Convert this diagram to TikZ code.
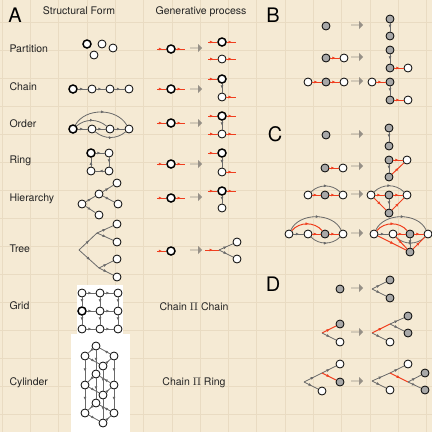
\documentclass[tikz,border=0pt]{standalone}
\usepackage{fontspec}
\setmainfont{TeX Gyre Heros}
\usetikzlibrary{arrows.meta, shapes.arrows, decorations.markings}
\definecolor{paper}{RGB}{245, 234, 212}
\definecolor{papergrid}{RGB}{233, 219, 194}
\definecolor{edgegray}{RGB}{105, 105, 105}
\definecolor{nodegray}{RGB}{168, 168, 168}
\definecolor{growred}{RGB}{240, 62, 30}
\definecolor{stepgray}{RGB}{150, 144, 135}
\definecolor{inkgray}{RGB}{35, 35, 35}
\newcommand{\redin}[1]{\draw[redge] ([xshift=-14pt]#1.center) -- (#1);}
\newcommand{\redout}[1]{\draw[redge] (#1) -- ([xshift=14pt]#1.center);}

\begin{document}
\begin{tikzpicture}[
  x=1pt, y=-1pt,
  fnode/.style={circle, draw=black, line width=0.8pt, fill=white, minimum size=8pt, inner sep=0pt},
  snode/.style={fnode, line width=1.5pt},
  gnode/.style={fnode, fill=nodegray},
  gedge/.style={color=edgegray, line width=0.8pt, postaction={decorate},
    decoration={markings, mark=at position 0.55 with {\arrow{Latex[length=3.2pt,width=3pt]}}}},
  redge/.style={gedge, color=growred, line width=1pt},
  stepar/.style={single arrow, fill=stepgray, draw=none, minimum height=12pt, minimum width=8pt,
    single arrow head extend=1.5pt, inner sep=0pt},
  lab/.style={anchor=west, text=inkgray, font=\fontsize{10.5}{12}\selectfont},
  head/.style={text=inkgray, font=\fontsize{10.5}{12}\selectfont},
  panel/.style={text=black, font=\fontsize{20}{24}\selectfont},
  whitebox/.style={fill=white, draw=none}
]
  % paper and its grid
  \useasboundingbox (0,0) rectangle (432,432);
  \fill[paper] (0,0) rectangle (432,432);
  \foreach \k in {0,...,15} {
    \draw[papergrid, line width=0.5pt] (2+28.3*\k,0) -- (2+28.3*\k,432);
    \draw[papergrid, line width=0.5pt] (0,22+28*\k) -- (432,22+28*\k);
  }

  % headings
  \node[panel] (pa) at (15,15) {A};
  \node[panel] (pb) at (273,15) {B};
  \node[panel] (pc) at (275,134) {C};
  \node[panel] (pd) at (273,284) {D};
  \node[head] (hsf) at (79,11) {Structural Form};
  \node[head] (hgp) at (201,12) {Generative process};

  % row labels
  \node[lab] (lpart) at (6,49) {Partition};
  \node[lab] (lchain) at (6,87) {Chain};
  \node[lab] (lorder) at (6,124) {Order};
  \node[lab] (lring) at (6,161) {Ring};
  \node[lab] (lhier) at (6,199) {Hierarchy};
  \node[lab] (ltree) at (6,249) {Tree};
  \node[lab] (lgrid) at (6,306) {Grid};
  \node[lab] (lcyl) at (6,383) {Cylinder};
  \node[head] (pcc) at (194,307) {Chain $\Pi$ Chain};
  \node[head] (pcr) at (194,383) {Chain $\Pi$ Ring};

  % structural forms
  \node[snode] (p1) at (87,44) {};
  \node[fnode] (p2) at (102,44) {};
  \node[fnode] (p3) at (113,48) {};
  \node[fnode] (p4) at (94,55) {};

  \node[snode] (c1) at (73,89) {};
  \node[fnode] (c2) at (92,89) {};
  \node[fnode] (c3) at (110,89) {};
  \node[fnode] (c4) at (129,89) {};
  \draw[gedge] (c1) -- (c2);
  \draw[gedge] (c2) -- (c3);
  \draw[gedge] (c3) -- (c4);

  \node[snode] (o1) at (73,129) {};
  \node[fnode] (o2) at (92,129) {};
  \node[fnode] (o3) at (110,129) {};
  \node[fnode] (o4) at (129,129) {};
  \draw[gedge] (o1) -- (o2);
  \draw[gedge] (o2) -- (o3);
  \draw[gedge] (o3) -- (o4);
  \draw[gedge] (o1) to[out=60, in=120] (o4);
  \draw[gedge] (o1) to[out=40, in=140] (o3);
  \draw[gedge] (o2) to[out=-40, in=-140] (o4);

  \node[snode] (r1) at (91,153) {};
  \node[fnode] (r2) at (109,153) {};
  \node[fnode] (r3) at (109,171) {};
  \node[fnode] (r4) at (91,171) {};
  \draw[gedge] (r1) -- (r2);
  \draw[gedge] (r2) -- (r3);
  \draw[gedge] (r3) -- (r4);
  \draw[gedge] (r4) -- (r1);

  \node[fnode] (h1) at (82,204) {};
  \node[fnode] (h2) at (99,194) {};
  \node[fnode] (h3) at (117,183) {};
  \node[fnode] (h4) at (118,204) {};
  \node[fnode] (h5) at (99,215) {};
  \draw[gedge] (h1) -- (h2);
  \draw[gedge] (h1) -- (h5);
  \draw[gedge] (h2) -- (h3);
  \draw[gedge] (h2) -- (h4);

  \coordinate (t0) at (79,250);
  \coordinate (t1) at (97,233);
  \coordinate (t2) at (99,268);
  \node[fnode] (t3) at (117,224) {};
  \node[fnode] (t4) at (117,242) {};
  \node[fnode] (t5) at (117,259) {};
  \node[fnode] (t6) at (117,277) {};
  \draw[gedge] (t0) -- (t1);
  \draw[gedge] (t0) -- (t2);
  \draw[gedge] (t1) -- (t3);
  \draw[gedge] (t1) -- (t4);
  \draw[gedge] (t2) -- (t5);
  \draw[gedge] (t2) -- (t6);

  % grid
  \fill[whitebox] (77,285) rectangle (123,334);
  \node[fnode] (g11) at (82,293) {};
  \node[fnode] (g12) at (100,293) {};
  \node[fnode] (g13) at (118,293) {};
  \node[snode] (g21) at (82,311) {};
  \node[fnode] (g22) at (100,311) {};
  \node[fnode] (g23) at (118,311) {};
  \node[fnode] (g31) at (82,329) {};
  \node[fnode] (g32) at (100,329) {};
  \node[fnode] (g33) at (118,329) {};
  \draw[gedge] (g11) -- (g12);
  \draw[gedge] (g12) -- (g13);
  \draw[gedge] (g21) -- (g22);
  \draw[gedge] (g22) -- (g23);
  \draw[gedge] (g31) -- (g32);
  \draw[gedge] (g32) -- (g33);
  \draw[gedge] (g11) -- (g21);
  \draw[gedge] (g21) -- (g31);
  \draw[gedge] (g12) -- (g22);
  \draw[gedge] (g22) -- (g32);
  \draw[gedge] (g13) -- (g23);
  \draw[gedge] (g23) -- (g33);

  % cylinder
  \fill[whitebox] (71,334) rectangle (130,432);
  \node[fnode] (y1b) at (96,346) {};
  \node[fnode] (y1l) at (85,356) {};
  \node[fnode] (y1r) at (114,356) {};
  \node[fnode] (y1f) at (103,366) {};
  \node[fnode] (y2b) at (96,374) {};
  \node[fnode] (y2l) at (85,385) {};
  \node[fnode] (y2r) at (114,385) {};
  \node[fnode] (y2f) at (103,395) {};
  \node[fnode] (y3b) at (96,403) {};
  \node[fnode] (y3l) at (85,413) {};
  \node[fnode] (y3r) at (114,413) {};
  \node[fnode] (y3f) at (103,423) {};
  \draw[gedge] (y1b) -- (y1l);
  \draw[gedge] (y1l) -- (y1f);
  \draw[gedge] (y1f) -- (y1r);
  \draw[gedge] (y1r) -- (y1b);
  \draw[gedge] (y2b) -- (y2l);
  \draw[gedge] (y2l) -- (y2f);
  \draw[gedge] (y2f) -- (y2r);
  \draw[gedge] (y2r) -- (y2b);
  \draw[gedge] (y3b) -- (y3l);
  \draw[gedge] (y3l) -- (y3f);
  \draw[gedge] (y3f) -- (y3r);
  \draw[gedge] (y3r) -- (y3b);
  \draw[gedge] (y1b) -- (y2b);
  \draw[gedge] (y1l) -- (y2l);
  \draw[gedge] (y1r) -- (y2r);
  \draw[gedge] (y1f) -- (y2f);
  \draw[gedge] (y2b) -- (y3b);
  \draw[gedge] (y2l) -- (y3l);
  \draw[gedge] (y2r) -- (y3r);
  \draw[gedge] (y2f) -- (y3f);

  % generative processes
  \node[snode] (ga1) at (171,49) {};
  \redin{ga1} \redout{ga1}
  \node[stepar] (sa) at (196,48) {};
  \node[snode] (ga2) at (222,42) {};
  \node[fnode] (ga3) at (222,59) {};
  \redin{ga2} \redout{ga2}
  \redin{ga3} \redout{ga3}

  \node[snode] (gb1) at (171,89) {};
  \redin{gb1} \redout{gb1}
  \node[stepar] (sb) at (196,89) {};
  \node[snode] (gb2) at (222,79) {};
  \node[fnode] (gb3) at (222,97) {};
  \draw[gedge] (gb2) -- (gb3);
  \redin{gb2} \redout{gb3}

  \node[snode] (gc1) at (171,123) {};
  \redin{gc1} \redout{gc1}
  \node[stepar] (sc) at (196,123) {};
  \node[snode] (gc2) at (222,116) {};
  \node[fnode] (gc3) at (222,134) {};
  \draw[gedge] (gc2) -- (gc3);
  \redin{gc2} \redout{gc2}
  \redin{gc3} \redout{gc3}

  \node[snode] (gd1) at (171,164) {};
  \redin{gd1} \redout{gd1}
  \node[stepar] (sd) at (196,164) {};
  \node[snode] (gd2) at (222,153) {};
  \node[fnode] (gd3) at (222,172) {};
  \draw[gedge] (gd2) -- (gd3);
  \redin{gd2} \redout{gd3}

  \node[snode] (ge1) at (171,198) {};
  \redin{ge1} \redout{ge1}
  \node[stepar] (se) at (196,197) {};
  \node[snode] (ge2) at (222,191) {};
  \node[fnode] (ge3) at (222,208) {};
  \draw[gedge] (ge2) -- (ge3);
  \redin{ge2} \redout{ge2}

  \node[snode] (gf1) at (171,251) {};
  \redin{gf1}
  \node[stepar] (sf) at (196,250) {};
  \coordinate (gf2) at (219,250);
  \node[fnode] (gf3) at (237,242) {};
  \node[fnode] (gf4) at (237,259) {};
  \redin{gf2}
  \draw[gedge] (gf2) -- (gf3);
  \draw[gedge] (gf2) -- (gf4);

  % B
  \node[gnode] (ba1) at (326,26) {};
  \node[stepar] (sba) at (357,25) {};
  \node[gnode] (ba2) at (390,19) {};
  \node[gnode] (ba3) at (390,36) {};
  \draw[gedge] (ba2) -- (ba3);

  \node[gnode] (bb1) at (326,58) {};
  \node[fnode] (bb2) at (344,58) {};
  \draw[redge] (bb1) -- (bb2);
  \node[stepar] (sbb) at (357,57) {};
  \node[gnode] (bb3) at (390,50) {};
  \node[gnode] (bb4) at (390,68) {};
  \node[fnode] (bb5) at (408,68) {};
  \draw[gedge] (bb3) -- (bb4);
  \draw[redge] (bb4) -- (bb5);

  \node[fnode] (bc1) at (308,82) {};
  \node[gnode] (bc2) at (326,82) {};
  \node[fnode] (bc3) at (344,82) {};
  \draw[redge] (bc1) -- (bc2);
  \draw[redge] (bc2) -- (bc3);
  \node[stepar] (sbc) at (357,81) {};
  \node[fnode] (bc4) at (372,82) {};
  \node[gnode] (bc5) at (390,82) {};
  \node[gnode] (bc6) at (390,100) {};
  \node[fnode] (bc7) at (408,100) {};
  \draw[redge] (bc4) -- (bc5);
  \draw[gedge] (bc5) -- (bc6);
  \draw[redge] (bc6) -- (bc7);

  % C
  \node[gnode] (ca1) at (326,135) {};
  \node[stepar] (sca) at (357,134) {};
  \node[gnode] (ca2) at (389,128) {};
  \node[gnode] (ca3) at (389,146) {};
  \draw[gedge] (ca2) -- (ca3);

  \node[gnode] (cb1) at (325,168) {};
  \node[fnode] (cb2) at (343,168) {};
  \draw[redge] (cb1) -- (cb2);
  \node[stepar] (scb) at (357,166) {};
  \node[gnode] (cb3) at (389,160) {};
  \node[fnode] (cb4) at (407,160) {};
  \node[gnode] (cb5) at (389,177) {};
  \draw[gedge] (cb3) -- (cb5);
  \draw[redge] (cb3) -- (cb4);
  \draw[redge] (cb5) -- (cb4);

  \node[fnode] (cc1) at (308,195) {};
  \node[gnode] (cc2) at (325,195) {};
  \node[fnode] (cc3) at (343,195) {};
  \draw[redge] (cc1) -- (cc2);
  \draw[redge] (cc2) -- (cc3);
  \draw[gedge] (cc1) to[out=45, in=135] (cc3);
  \node[stepar] (scc) at (357,194) {};
  \node[fnode] (cc4) at (371,195) {};
  \node[gnode] (cc5) at (389,195) {};
  \node[fnode] (cc6) at (407,195) {};
  \node[gnode] (cc7) at (389,213) {};
  \draw[redge] (cc4) -- (cc5);
  \draw[redge] (cc5) -- (cc6);
  \draw[redge] (cc4) -- (cc7);
  \draw[redge] (cc7) -- (cc6);
  \draw[gedge] (cc5) -- (cc7);
  \draw[gedge] (cc4) to[out=45, in=135] (cc6);

  \node[fnode] (cd1) at (289,234) {};
  \node[fnode] (cd2) at (308,234) {};
  \node[gnode] (cd3) at (325,234) {};
  \node[fnode] (cd4) at (343,234) {};
  \draw[gedge] (cd1) -- (cd2);
  \draw[redge] (cd2) -- (cd3);
  \draw[redge] (cd3) -- (cd4);
  \draw[gedge] (cd1) to[out=65, in=115] (cd4);
  \draw[redge] (cd1) to[out=50, in=130] (cd3);
  \draw[gedge] (cd2) to[out=-45, in=-135] (cd4);
  \node[stepar] (scd) at (357,233) {};
  \node[fnode] (ce1) at (374,234) {};
  \node[fnode] (ce2) at (393,234) {};
  \node[gnode] (ce3) at (410,234) {};
  \node[fnode] (ce4) at (428,234) {};
  \node[gnode] (ce5) at (410,252) {};
  \draw[gedge] (ce1) -- (ce2);
  \draw[redge] (ce2) -- (ce3);
  \draw[redge] (ce3) -- (ce4);
  \draw[gedge] (ce1) to[out=65, in=115] (ce4);
  \draw[redge] (ce1) to[out=50, in=130] (ce3);
  \draw[gedge] (ce2) to[out=-45, in=-135] (ce4);
  \draw[redge] (ce1) -- (ce5);
  \draw[redge] (ce2) -- (ce5);
  \draw[gedge] (ce3) -- (ce5);
  \draw[redge] (ce5) -- (ce4);

  % D
  \node[gnode] (da1) at (340,289) {};
  \node[stepar] (sda) at (357,288) {};
  \coordinate (da0) at (372,289);
  \node[gnode] (da2) at (390,280) {};
  \node[gnode] (da3) at (390,298) {};
  \draw[gedge] (da0) -- (da2);
  \draw[gedge] (da0) -- (da3);

  \coordinate (db0) at (322,333);
  \node[gnode] (db1) at (340,324) {};
  \node[fnode] (db2) at (340,342) {};
  \draw[redge] (db0) -- (db1);
  \draw[gedge] (db0) -- (db2);
  \node[stepar] (sdb) at (357,332) {};
  \coordinate (dc0) at (372,333);
  \coordinate (dc1) at (390,324);
  \node[gnode] (dc2) at (408,316) {};
  \node[gnode] (dc3) at (408,333) {};
  \node[fnode] (dc4) at (390,342) {};
  \draw[redge] (dc0) -- (dc1);
  \draw[gedge] (dc1) -- (dc2);
  \draw[gedge] (dc1) -- (dc3);
  \draw[gedge] (dc0) -- (dc4);

  \coordinate (dd0) at (304,382);
  \coordinate (dd1) at (322,373);
  \node[fnode] (dd2) at (340,364) {};
  \node[gnode] (dd3) at (340,382) {};
  \node[fnode] (dd4) at (322,391) {};
  \draw[gedge] (dd0) -- (dd1);
  \draw[gedge] (dd0) -- (dd4);
  \draw[gedge] (dd1) -- (dd2);
  \draw[redge] (dd1) -- (dd3);
  \node[stepar] (sdd) at (357,381) {};
  \coordinate (de0) at (372,381);
  \coordinate (de1) at (390,373);
  \node[fnode] (de2) at (408,364) {};
  \coordinate (de3) at (408,382);
  \node[gnode] (de4) at (425,373) {};
  \node[gnode] (de5) at (425,390) {};
  \node[fnode] (de6) at (390,390) {};
  \draw[gedge] (de0) -- (de1);
  \draw[gedge] (de0) -- (de6);
  \draw[gedge] (de1) -- (de2);
  \draw[redge] (de1) -- (de3);
  \draw[gedge] (de3) -- (de4);
  \draw[gedge] (de3) -- (de5);
\end{tikzpicture}
\end{document}
